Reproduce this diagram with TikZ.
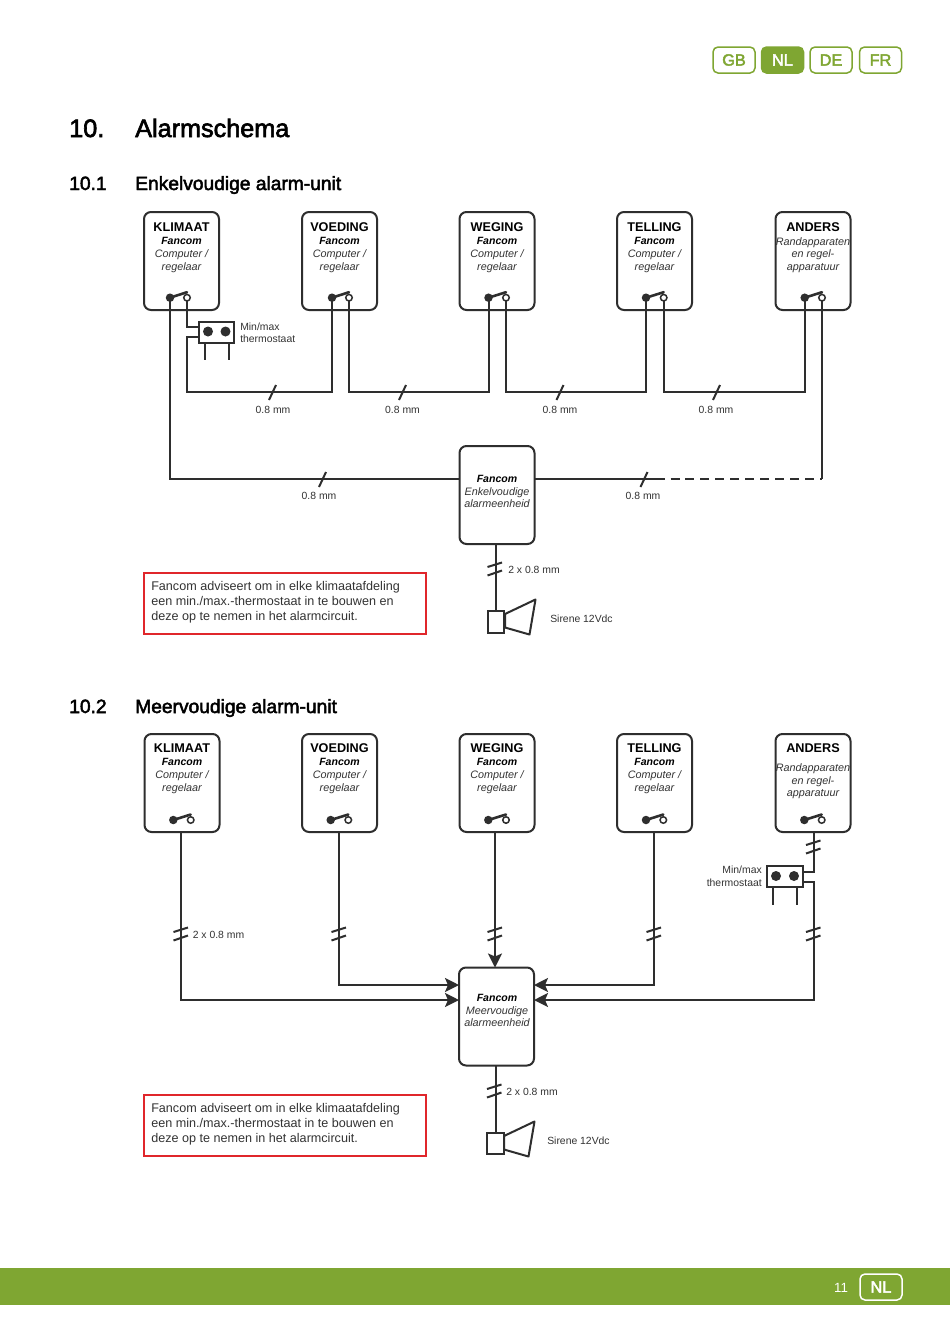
\documentclass[tikz,border=0pt]{standalone}
\usepackage{fontspec}
\setmainfont{Liberation Sans}
\newfontfamily\medfont[FakeBold=2.5]{Liberation Sans}
\usetikzlibrary{arrows.meta}
\def\px{0.75pt}
\definecolor{fgreen}{HTML}{7FA632}
\definecolor{wire}{HTML}{2E2E2E}
\definecolor{txt}{HTML}{333333}
\definecolor{alarmred}{HTML}{E0262B}
\tikzset{
  unitbox/.style={draw=wire,line width=2*\px,rounded corners=7*\px,minimum width=75*\px,minimum height=98*\px,inner sep=0pt,outer sep=0pt,fill=white},
  titletext/.style={font=\fontsize{9.5pt}{12pt}\selectfont\bfseries,text=black,anchor=base,inner sep=0pt},
  brandtext/.style={font=\fontsize{7.9pt}{10pt}\selectfont\bfseries\itshape,text=black,anchor=base,inner sep=0pt},
  desctext/.style={font=\fontsize{8.1pt}{10pt}\selectfont\itshape,text=txt,anchor=base,inner sep=0pt},
  lbl/.style={font=\fontsize{7.8pt}{10pt}\selectfont,text=txt,anchor=base,inner sep=0pt},
  lblw/.style={lbl,anchor=base west},
  lble/.style={lbl,anchor=base east},
  wireline/.style={draw=wire,line width=2*\px},
  armline/.style={draw=wire,line width=2.6*\px,line cap=round},
  thin wire/.style={draw=wire,line width=1.9*\px},
  arrowline/.style={wireline,-{Stealth[length=14*\px,width=14*\px,inset=3*\px]}},
  fdot/.style={circle,fill=wire,minimum size=8.5*\px,inner sep=0pt,outer sep=0pt},
  odot/.style={circle,draw=wire,fill=white,line width=1.5*\px,minimum size=6.5*\px,inner sep=0pt,outer sep=0pt},
  tdot/.style={circle,fill=wire,minimum size=10*\px,inner sep=0pt,outer sep=0pt},
  thermobox/.style={draw=wire,line width=2*\px,minimum width=35.5*\px,minimum height=21*\px,inner sep=0pt,outer sep=0pt,fill=white},
  sirenbox/.style={draw=wire,line width=2*\px,minimum width=16.5*\px,minimum height=21.5*\px,inner sep=0pt,outer sep=0pt,fill=white},
  notebox/.style={draw=alarmred,line width=2*\px,minimum width=282*\px,minimum height=61*\px,inner sep=0pt,outer sep=0pt},
  notetext/.style={font=\fontsize{9.45pt}{11pt}\selectfont,text=txt,anchor=base west,inner sep=0pt},
  tab/.style={draw=fgreen,line width=1.5*\px,rounded corners=5*\px,minimum width=42*\px,minimum height=26*\px,inner sep=0pt,text=fgreen,font=\medfont\fontsize{12.2pt}{14pt}\selectfont},
  h1/.style={font=\medfont\fontsize{18.9pt}{22pt}\selectfont,text=black,anchor=base west,inner sep=0pt},
  h2/.style={font=\medfont\fontsize{14.4pt}{17pt}\selectfont,text=black,anchor=base west,inner sep=0pt},
}
% name, cx, cy, title, baseline, brand, line 1, line 2
\newcommand{\unitnode}[8]{%
  \node[unitbox] (#1) at (#2,#3) {};
  \node[titletext] (#1t) at (#2,#5) {#4};
  \node[brandtext] (#1a) at (#2,#5+12.7) {#6};
  \node[desctext] (#1b) at (#2,#5+25.5) {#7};
  \node[desctext] (#1c) at (#2,#5+38.5) {#8};
}
% name, filled dot x, open dot x, y
\newcommand{\switchnode}[4]{%
  \node[fdot] (#1f) at (#2,#4) {};
  \coordinate (#1h) at (#3,#4-5.5);
  \draw[armline] (#1f.center) -- (#1h);
  \node[odot] (#1o) at (#3,#4) {};
}
\newcommand{\oneslash}[2]{\draw[wireline] (#1-3.5,#2+8) -- (#1+3.5,#2-7);}
\newcommand{\twoslash}[2]{\draw[wireline] (#1-7.5,#2-2) -- (#1+7,#2-6.5) (#1-7.5,#2+6.5) -- (#1+7,#2+1.5);}
\newcommand{\horn}[2]{\draw[wireline,fill=white,line join=round] (#1,#2+2.5) -- (#1+30.5,#2-12) -- (#1+24.5,#2+23) -- (#1,#2+16) -- cycle;}
\begin{document}
\begin{tikzpicture}[x=0.75pt,y=-0.75pt]
\useasboundingbox (0,0) rectangle (950,1343);
\fill[white] (0,0) rectangle (950,1343);
% header tabs
\node[tab] (tabgb) at (734,60) {GB};
\node[tab,fill=fgreen,text=white] (tabnl) at (782.5,60) {NL};
\node[tab] (tabde) at (831,60) {DE};
\node[tab] (tabfr) at (880.5,60) {FR};
% headings
\node[h1] (hnum) at (69,137) {10.};
\node[h1] (htitle) at (135,137) {Alarmschema};
\node[h2] (snum1) at (69,190) {10.1};
\node[h2] (stitle1) at (135,190) {Enkelvoudige alarm-unit};
\node[h2] (snum2) at (69,713) {10.2};
\node[h2] (stitle2) at (135,713) {Meervoudige alarm-unit};
% footer
\fill[fgreen] (0,1268) rectangle (950,1305);
\node[font=\fontsize{10pt}{12pt}\selectfont,text=white,inner sep=0pt] (pagenum) at (841,1288) {11};
\node[tab,draw=white,text=white,minimum height=26*\px] (tabfoot) at (881,1287) {NL};

% ---------- section 10.1 ----------
\unitnode{a}{181.5}{261}{KLIMAAT}{231.5}{Fancom}{Computer /}{regelaar}
\unitnode{b}{339.5}{261}{VOEDING}{231.5}{Fancom}{Computer /}{regelaar}
\unitnode{c}{497}{261}{WEGING}{231.5}{Fancom}{Computer /}{regelaar}
\unitnode{d}{654.5}{261}{TELLING}{231.5}{Fancom}{Computer /}{regelaar}
\unitnode{e}{813}{261}{ANDERS}{231.5}{}{}{}
\switchnode{a}{170}{187}{297.7}
\switchnode{b}{332}{349}{297.7}
\switchnode{c}{488.5}{506}{297.7}
\switchnode{d}{646}{663.7}{297.7}
\switchnode{e}{804.7}{822}{297.7}
\node[desctext] (e1) at (813,245) {Randapparaten};
\node[desctext] (e2) at (813,257) {en regel-};
\node[desctext] (e3) at (813,270) {apparatuur};

\node[unitbox] (al1) at (497,495) {};
\node[brandtext] (al1a) at (497,482) {Fancom};
\node[desctext] (al1b) at (497,495) {Enkelvoudige};
\node[desctext] (al1c) at (497,507.5) {alarmeenheid};

\node[thermobox] (th1) at (216.5,332) {};
\node[tdot] (th1l) at (208,331.5) {};
\node[tdot] (th1r) at (225.5,331.5) {};
\coordinate (th1la) at (205,360);
\coordinate (th1ra) at (229,360);
\draw[thin wire] (th1.south -| th1la) -- (th1la);
\draw[thin wire] (th1.south -| th1ra) -- (th1ra);
\node[lblw] (th1t1) at (240,330) {Min/max};
\node[lblw] (th1t2) at (240,342) {thermostaat};

\coordinate (j1) at (199,327);
\coordinate (j2) at (199,337);
\coordinate (y1) at (0,392);
\coordinate (y2) at (0,479);
\draw[wireline] (ao.south) |- (j1);
\draw[wireline] (j2) -| (ao.south |- y1) -- (bf.center |- y1) -- (bf.center);
\draw[wireline] (bo.south) -- (bo.south |- y1) -- (cf.center |- y1) -- (cf.center);
\draw[wireline] (co.south) -- (co.south |- y1) -- (df.center |- y1) -- (df.center);
\draw[wireline] (do.south) -- (do.south |- y1) -- (ef.center |- y1) -- (ef.center);
\draw[wireline] (af.center) |- (al1.west |- y2);
\coordinate (dashstart) at (665,479);
\coordinate (dashfirst) at (670.5,479);
\draw[wireline] (al1.east |- y2) -- (dashstart);
\draw[wireline,dash pattern=on 9*\px off 5.95*\px] (dashfirst) -- (eo.south |- y2);
\draw[wireline,line cap=square] (eo.south |- y2) -- (eo.south);
\oneslash{272.5}{392}
\oneslash{402.5}{392}
\oneslash{560}{392}
\oneslash{716.5}{392}
\oneslash{322.5}{479}
\oneslash{644}{479}
\node[lbl] (m1) at (273,413) {0.8 mm};
\node[lbl] (m2) at (402.5,413) {0.8 mm};
\node[lbl] (m3) at (560,413) {0.8 mm};
\node[lbl] (m4) at (716,413) {0.8 mm};
\node[lbl] (m5) at (319,499) {0.8 mm};
\node[lbl] (m6) at (643,499) {0.8 mm};

\node[sirenbox] (si1) at (496.2,622) {};
\draw[wireline] (al1.south -| si1) -- (si1.north);
\horn{505}{611.5}
\twoslash{495}{569}
\node[lblw] (si1l) at (508,573) {2 x 0.8 mm};
\node[lblw] (si1t) at (550,622) {Sirene 12Vdc};

\node[notebox] (n1) at (285,603.5) {};
\node[notetext] (n1a) at (151,590.5) {Fancom adviseert om in elke klimaatafdeling};
\node[notetext] (n1b) at (151,605.5) {een min./max.-thermostaat in te bouwen en};
\node[notetext] (n1c) at (151,620.5) {deze op te nemen in het alarmcircuit.};

% ---------- section 10.2 ----------
\unitnode{p}{182}{783}{KLIMAAT}{752.5}{Fancom}{Computer /}{regelaar}
\unitnode{q}{339.5}{783}{VOEDING}{752.5}{Fancom}{Computer /}{regelaar}
\unitnode{r}{497}{783}{WEGING}{752.5}{Fancom}{Computer /}{regelaar}
\unitnode{s}{654.5}{783}{TELLING}{752.5}{Fancom}{Computer /}{regelaar}
\unitnode{u}{813}{783}{ANDERS}{752.5}{}{}{}
\switchnode{p}{173.3}{190.7}{820}
\switchnode{q}{330.7}{348.3}{820}
\switchnode{r}{488.3}{506}{820}
\switchnode{s}{646}{663.3}{820}
\switchnode{u}{804.3}{821.7}{820}
\node[desctext] (u1) at (813,771) {Randapparaten};
\node[desctext] (u2) at (813,784) {en regel-};
\node[desctext] (u3) at (813,796.5) {apparatuur};

\node[unitbox] (al2) at (496.5,1016.5) {};
\node[brandtext] (al2a) at (497,1001) {Fancom};
\node[desctext] (al2b) at (497,1014) {Meervoudige};
\node[desctext] (al2c) at (497,1026.5) {alarmeenheid};

\node[thermobox] (th2) at (785,876) {};
\node[tdot] (th2l) at (776,876) {};
\node[tdot] (th2r) at (794,876) {};
\coordinate (th2la) at (773.3,905);
\coordinate (th2ra) at (797,905);
\draw[thin wire] (th2.south -| th2la) -- (th2la);
\draw[thin wire] (th2.south -| th2ra) -- (th2ra);
\node[lble] (th2t1) at (762,873) {Min/max};
\node[lble] (th2t2) at (762,886) {thermostaat};

\coordinate (wp) at (181,832);
\coordinate (wq) at (339,832);
\coordinate (wr) at (495,832);
\coordinate (ws) at (654,832);
\coordinate (wu) at (813.5,832);
\coordinate (k1) at (802.7,872);
\coordinate (k2) at (802.7,881.7);
\coordinate (y3) at (0,985);
\coordinate (y4) at (0,1000);
\draw[arrowline] (wp) |- (al2.west |- y4);
\draw[arrowline] (wq) |- (al2.west |- y3);
\draw[arrowline] (wr) -- (wr |- al2.north);
\draw[arrowline] (ws) |- (al2.east |- y3);
\draw[wireline] (wu) |- (k1);
\draw[arrowline] (k2) -| (wu |- y4) -- (al2.east |- y4);
\twoslash{181}{934}
\twoslash{339}{934}
\twoslash{495}{934}
\twoslash{654}{934}
\twoslash{813.5}{934}
\twoslash{813.5}{847}
\node[lblw] (pl) at (192.5,938) {2 x 0.8 mm};

\node[sirenbox] (si2) at (495.7,1143.5) {};
\draw[wireline] (al2.south -| si2) -- (si2.north);
\horn{504}{1133.5}
\twoslash{494.5}{1091}
\node[lblw] (si2l) at (506,1095) {2 x 0.8 mm};
\node[lblw] (si2t) at (547,1144) {Sirene 12Vdc};

\node[notebox] (n2) at (285,1125) {};
\node[notetext] (n2a) at (151,1112.5) {Fancom adviseert om in elke klimaatafdeling};
\node[notetext] (n2b) at (151,1127.5) {een min./max.-thermostaat in te bouwen en};
\node[notetext] (n2c) at (151,1142.5) {deze op te nemen in het alarmcircuit.};
\end{tikzpicture}
\end{document}
